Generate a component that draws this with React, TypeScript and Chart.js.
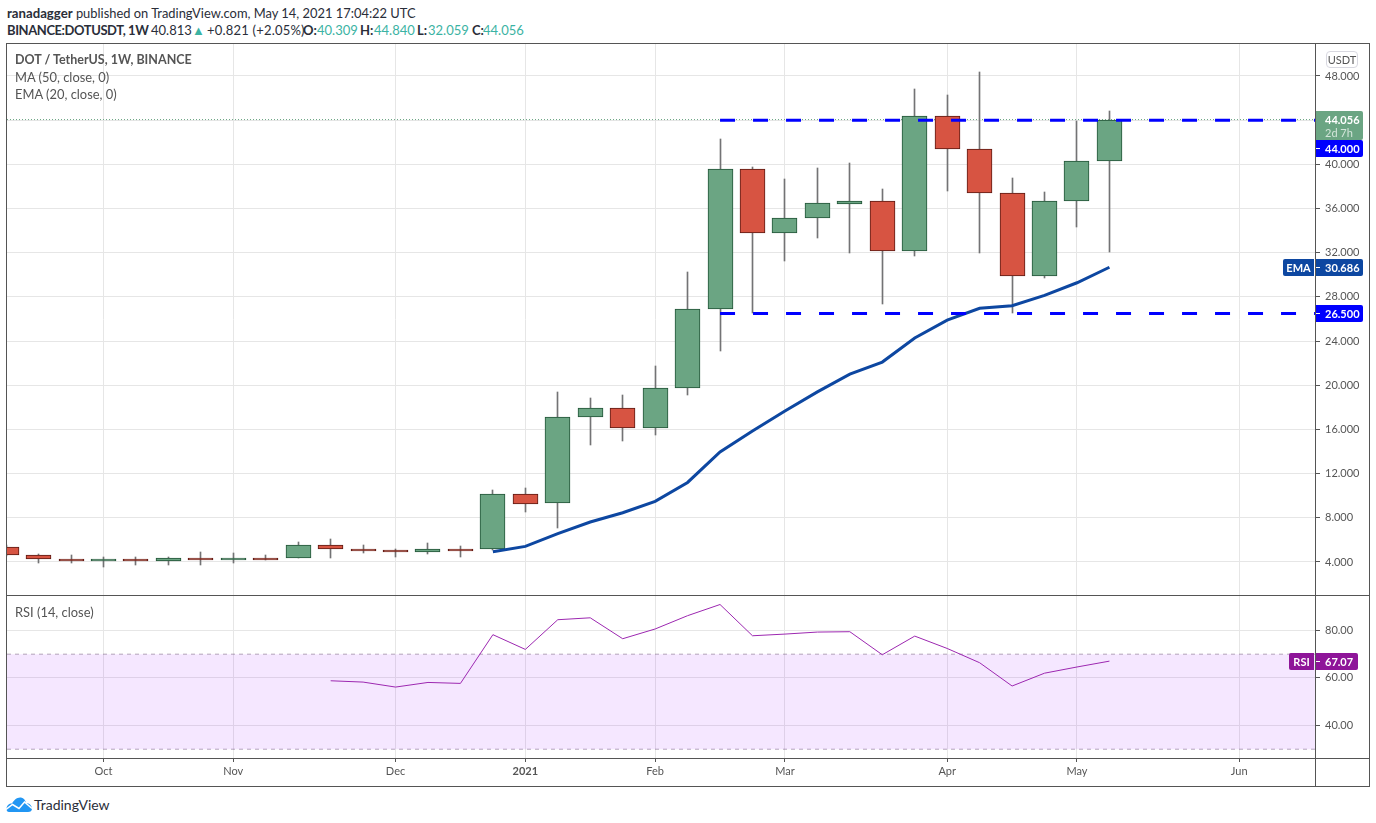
import React, { useEffect, useRef } from "react";
import { Chart, registerables } from "chart.js";

Chart.register(...registerables);

const FONT = "Lato, 'Open Sans', sans-serif";

// Weekly candles: index 0 = week of 2020-09-07, index 34 = week of 2021-05-10
const weeks = Array.from({ length: 35 }, (_, i) => i);
const opens = [5.36, 4.63, 4.3, 4.12, 4.27, 4.06, 4.36, 4.15, 4.39, 4.33, 5.54, 5.21, 5.09, 4.88, 5.21, 5.15, 10.13, 9.31, 17.1, 17.9, 16.1, 19.72, 26.88, 39.55, 33.76, 35.1, 36.44, 36.65, 32.2, 44.35, 41.36, 37.38, 29.87, 36.65, 40.309];
const highs = [5.5, 4.76, 4.66, 4.48, 4.48, 4.48, 4.94, 4.85, 4.66, 5.84, 6.11, 5.57, 5.21, 5.75, 5.48, 10.52, 10.7, 19.39, 18.85, 19.12, 21.74, 30.25, 42.3, 39.73, 38.67, 39.67, 40.12, 37.77, 46.82, 46.28, 48.36, 38.76, 37.5, 43.93, 44.84];
const lows = [4.5, 3.88, 3.88, 3.58, 3.76, 3.76, 3.76, 3.88, 4.21, 4.33, 4.39, 4.85, 4.48, 4.76, 4.48, 5.1, 8.55, 7.1, 14.62, 14.98, 15.52, 19.15, 23.1, 26.5, 31.28, 33.36, 32.0, 27.38, 31.73, 37.62, 32.0, 26.57, 29.71, 34.36, 32.059];
const closes = [4.6, 4.24, 4.12, 4.3, 4.06, 4.36, 4.15, 4.36, 4.33, 5.54, 5.15, 5.03, 4.88, 5.18, 5.15, 10.13, 9.22, 17.1, 17.9, 16.1, 19.72, 26.88, 39.55, 33.76, 35.1, 36.47, 36.65, 32.2, 44.35, 41.36, 37.38, 29.87, 36.65, 40.27, 44.056];

const emaWeeks = [15, 16, 17, 18, 19, 20, 21, 22, 23, 24, 25, 26, 27, 28, 29, 30, 31, 32, 33, 34];
const emaValues = [4.93, 5.41, 6.56, 7.62, 8.46, 9.49, 11.2, 13.96, 15.86, 17.67, 19.4, 21.0, 22.1, 24.28, 25.9, 26.97, 27.2, 28.14, 29.28, 30.686];

const rsiWeeks = [10, 11, 12, 13, 14, 15, 16, 17, 18, 19, 20, 21, 22, 23, 24, 25, 26, 27, 28, 29, 30, 31, 32, 33, 34];
const rsiValues = [58.8, 58.25, 56.15, 58.1, 57.7, 78.2, 72.0, 84.5, 85.3, 76.5, 80.6, 86.2, 90.9, 77.75, 78.45, 79.3, 79.45, 69.75, 77.6, 72.4, 66.4, 56.6, 62.0, 64.6, 67.07];

const priceTicks = [4, 8, 12, 16, 20, 24, 28, 32, 36, 40, 44, 48];
const hiddenPriceTicks = [44];
const rsiTicks = [40, 60, 80];
const monthTicks = [3, 7, 12, 16, 20, 24, 29, 33, 38];
const monthLabels = ["Oct", "Nov", "Dec", "2021", "Feb", "Mar", "Apr", "May", "Jun"];

const LEVEL_HIGH = 44;
const LEVEL_LOW = 26.5;
const LEVEL_START = 22;
const LAST_PRICE = 44.056;
const LAST_EMA = 30.686;
const LAST_RSI = 67.07;
const RSI_UPPER = 70;
const RSI_LOWER = 30;

const X_MIN = 0.026;
const X_MAX = 40.335;

const GREEN = "#6ba583";
const GREEN_DARK = "#225437";
const RED = "#d75442";
const RED_DARK = "#5b1a13";
const WICK = "#737375";
const GRID = "#e6e6e6";
const AXIS = "#555555";
const TEXT = "#555555";
const BLUE = "#0000ff";
const EMA_BLUE = "#0d47a1";
const RSI_PURPLE = "#8e1599";
const AXIS_FONT_SIZE = 11;

const crispBars = {
  id: "crispBars",
  afterDatasetsUpdate(chart: any) {
    chart.data.datasets.forEach((_: any, i: number) => {
      const meta = chart.getDatasetMeta(i);
      if (meta.type !== "bar") return;
      meta.data.forEach((el: any) => {
        el.x = Math.floor(el.x) + 0.5;
        const top = Math.round(Math.min(el.y, el.base));
        const bottom = Math.round(Math.max(el.y, el.base));
        el.y = top;
        el.base = Math.max(bottom, top + 2);
      });
    });
  },
};

type TagSpec = { value: number; bg: string; text: string; sub?: string; label?: string; labelW?: number; w?: number; offset?: number };

function tagPlugin(tags: TagSpec[], axisRight: number) {
  return {
    id: "axisTags",
    afterDraw(chart: any) {
      const { ctx, scales } = chart;
      const left = axisRight + 1;
      tags.forEach((t) => {
        const yc = Math.floor(scales.y.getPixelForValue(t.value)) + (t.offset ?? 0);
        const w = t.w ?? 47;
        const top = yc - 8;
        ctx.save();
        ctx.textBaseline = "middle";
        ctx.fillStyle = t.bg;
        ctx.beginPath();
        ctx.roundRect(left, top, w, t.sub ? 29 : 17, [0, 2, 2, 0]);
        ctx.fill();
        if (!t.sub) {
          ctx.fillStyle = "#ffffff";
          ctx.fillRect(left, yc, 4, 1);
        }
        ctx.font = `bold ${AXIS_FONT_SIZE}px ${FONT}`;
        ctx.fillStyle = "#ffffff";
        ctx.textAlign = "left";
        ctx.fillText(t.text, left + 9, yc + 1);
        if (t.sub) {
          ctx.font = `${AXIS_FONT_SIZE}px ${FONT}`;
          ctx.fillStyle = "#d3e5da";
          ctx.fillText(t.sub, left + 9, yc + 14);
        }
        if (t.label) {
          const lw = t.labelW ?? 31;
          ctx.fillStyle = t.bg;
          ctx.beginPath();
          ctx.roundRect(left - 2 - lw, top, lw, 17, [2, 0, 0, 2]);
          ctx.fill();
          ctx.fillStyle = "#ffffff";
          ctx.textAlign = "center";
          ctx.fillText(t.label, left - 2 - lw / 2, yc + 1);
        }
        ctx.restore();
      });
    },
  };
}

function sharedX(showLabels: boolean) {
  return {
    type: "linear",
    min: X_MIN,
    max: X_MAX,
    offset: false,
    afterBuildTicks: (scale: any) => {
      scale.ticks = monthTicks.map((value) => ({ value }));
    },
    grid: {
      color: GRID,
      lineWidth: 1,
      offset: false,
      drawTicks: showLabels,
      tickLength: 4,
      tickColor: AXIS,
    },
    border: { display: false },
    ticks: {
      display: showLabels,
      autoSkip: false,
      maxRotation: 0,
      minRotation: 0,
      padding: 3,
      color: TEXT,
      font: (c: any) => ({
        family: FONT,
        size: AXIS_FONT_SIZE,
        weight: c.tick && c.tick.value === 16 ? "bold" : "normal",
      }),
      callback: (v: any) => monthLabels[monthTicks.indexOf(Number(v))] ?? "",
    },
    afterFit: (scale: any) => {
      scale.height = showLabels ? 28 : 0;
      scale.paddingLeft = 0;
      scale.paddingRight = 0;
    },
  };
}

function yAxis(min: number, max: number, ticks: number[], digits: number) {
  return {
    type: "linear",
    position: "right",
    min,
    max,
    afterBuildTicks: (scale: any) => {
      scale.ticks = ticks.map((value) => ({ value }));
    },
    grid: { color: GRID, lineWidth: 1, tickLength: 5, tickColor: AXIS },
    border: { display: false },
    ticks: {
      padding: 5,
      color: TEXT,
      font: { family: FONT, size: AXIS_FONT_SIZE },
      callback: (v: any) => (hiddenPriceTicks.includes(Number(v)) && digits === 3 ? "" : Number(v).toFixed(digits)),
    },
    afterFit: (scale: any) => {
      scale.width = 54;
      scale.paddingTop = 0;
      scale.paddingBottom = 0;
    },
  };
}

const baseOptions = {
  animation: false,
  responsive: false,
  devicePixelRatio: 1,
  maintainAspectRatio: false,
  layout: { padding: 0 },
  plugins: { legend: { display: false }, tooltip: { enabled: false } },
  events: [],
};

const line = (data: { x: number; y: number }[], extra: object) => ({
  type: "line",
  data,
  pointRadius: 0,
  tension: 0,
  fill: false,
  ...extra,
});

function buildMain(canvas: HTMLCanvasElement) {
  const up = weeks.map((i) => closes[i] >= opens[i]);
  return new Chart(canvas, {
    type: "bar",
    data: {
      datasets: [
        line(
          [
            { x: X_MIN, y: LAST_PRICE },
            { x: X_MAX, y: LAST_PRICE },
          ],
          { borderColor: GREEN, borderWidth: 1, borderDash: [1, 2], order: 5 },
        ),
        {
          type: "bar",
          data: weeks.map((i) => ({ x: i, y: [lows[i], highs[i]] })),
          backgroundColor: WICK,
          borderWidth: 0,
          barThickness: 1,
          grouped: false,
          order: 4,
        },
        {
          type: "bar",
          data: weeks.map((i) => ({ x: i, y: [opens[i], closes[i]] })),
          backgroundColor: up.map((u) => (u ? GREEN : RED)),
          borderColor: up.map((u) => (u ? GREEN_DARK : RED_DARK)),
          borderWidth: 1,
          borderSkipped: false,
          barThickness: 25,
          grouped: false,
          order: 3,
        },
        line(
          emaWeeks.map((x, i) => ({ x, y: emaValues[i] })),
          { borderColor: EMA_BLUE, borderWidth: 3, order: 2 },
        ),
        line(
          [
            { x: LEVEL_START, y: LEVEL_HIGH },
            { x: X_MAX, y: LEVEL_HIGH },
          ],
          { borderColor: BLUE, borderWidth: 3, borderDash: [15, 18], order: 1 },
        ),
        line(
          [
            { x: LEVEL_START, y: LEVEL_LOW },
            { x: X_MAX, y: LEVEL_LOW },
          ],
          { borderColor: BLUE, borderWidth: 3, borderDash: [15, 18], order: 1 },
        ),
      ],
    },
    options: {
      ...baseOptions,
      scales: { x: sharedX(false), y: yAxis(1.01, 50.897, priceTicks, 3) },
    },
    plugins: [
      crispBars,
      tagPlugin(
        [
          { value: LAST_EMA, bg: EMA_BLUE, text: LAST_EMA.toFixed(3), label: "EMA" },
          { value: LEVEL_LOW, bg: BLUE, text: LEVEL_LOW.toFixed(3) },
          { value: LAST_PRICE, bg: GREEN, text: LAST_PRICE.toFixed(3), sub: "2d 7h" },
          { value: LEVEL_HIGH, offset: 28, bg: BLUE, text: LEVEL_HIGH.toFixed(3) },
        ],
        1308,
      ),
    ],
  } as any);
}

function buildRsi(canvas: HTMLCanvasElement) {
  const bandDash = { borderColor: "rgba(120,100,130,0.55)", borderWidth: 1, borderDash: [4, 4] };
  return new Chart(canvas, {
    type: "line",
    data: {
      datasets: [
        line(
          [
            { x: X_MIN, y: RSI_UPPER },
            { x: X_MAX, y: RSI_UPPER },
          ],
          { ...bandDash, fill: { target: 1 }, backgroundColor: "rgba(153,21,255,0.10)", order: 3 },
        ),
        line(
          [
            { x: X_MIN, y: RSI_LOWER },
            { x: X_MAX, y: RSI_LOWER },
          ],
          { ...bandDash, order: 3 },
        ),
        line(
          rsiWeeks.map((x, i) => ({ x, y: rsiValues[i] })),
          { borderColor: "#9c27b0", borderWidth: 1, order: 1 },
        ),
      ],
    },
    options: {
      ...baseOptions,
      scales: { x: sharedX(true), y: yAxis(26.3, 94.48, rsiTicks, 2) },
    },
    plugins: [
      tagPlugin([{ value: LAST_RSI, bg: RSI_PURPLE, text: LAST_RSI.toFixed(2), label: "RSI", labelW: 25, w: 42 }], 1308),
    ],
  } as any);
}

const abs = (left: number, top: number, width: number, height: number): React.CSSProperties => ({
  position: "absolute",
  left,
  top,
  width,
  height,
});

const teal = "#3bb3a3";

const headerBits: { left: number; text: string; color?: string; bold?: boolean; spacing?: number }[] = [
  { left: 7, text: "BINANCE:DOTUSDT, 1W", bold: true, spacing: -0.42 },
  { left: 151, text: "40.813" },
  { left: 192, text: "▲", color: teal },
  { left: 207, text: "+0.821 (+2.05%)", spacing: 0.2 },
  { left: 303, text: "O:", bold: true },
  { left: 317, text: "40.309", color: teal },
  { left: 360, text: "H:", bold: true },
  { left: 374, text: "44.840", color: teal },
  { left: 417, text: "L:", bold: true },
  { left: 428, text: "32.059", color: teal },
  { left: 472, text: "C:", bold: true },
  { left: 483, text: "44.056", color: teal },
];

export default function App() {
  const mainRef = useRef<HTMLCanvasElement>(null);
  const rsiRef = useRef<HTMLCanvasElement>(null);

  useEffect(() => {
    document.body.style.margin = "0";
    const a = buildMain(mainRef.current!);
    const b = buildRsi(rsiRef.current!);
    return () => {
      a.destroy();
      b.destroy();
    };
  }, []);

  const legend = (top: number, weight = 400, size = 12.9): React.CSSProperties => ({
    position: "absolute",
    left: 15,
    top,
    whiteSpace: "nowrap",
    fontFamily: FONT,
    fontSize: size,
    lineHeight: "16px",
    fontWeight: weight,
    color: "#555555",
  });

  return (
    <div style={{ ...abs(0, 0, 1376, 823), background: "#fff", overflow: "hidden" }}>
      <div
        style={{
          position: "absolute",
          left: 7,
          top: 5,
          whiteSpace: "nowrap",
          fontFamily: FONT,
          fontSize: 12.9,
          lineHeight: "17px",
          color: "#2a2e39",
        }}
      >
        <span style={{ fontWeight: 700, fontSize: 13.2 }}>ranadagger</span> published on TradingView.com, May 14, 2021 17:04:22 UTC
      </div>
      {headerBits.map((b) => (
        <span
          key={b.left}
          style={{
            position: "absolute",
            left: b.left,
            top: 22,
            whiteSpace: "nowrap",
            fontFamily: FONT,
            fontSize: 13,
            lineHeight: "17px",
            fontWeight: b.bold ? 700 : 400,
            letterSpacing: b.spacing ?? 0,
            color: b.color ?? "#2a2e39",
          }}
        >
          {b.text}
        </span>
      ))}

      <canvas ref={mainRef} width={1362} height={551} style={{ ...abs(7, 44, 1362, 551), display: "block" }} />
      <canvas ref={rsiRef} width={1362} height={190} style={{ ...abs(7, 596, 1362, 190), display: "block" }} />

      <div style={legend(52, 700, 12.5)}>DOT / TetherUS, 1W, BINANCE</div>
      <div style={legend(69)}>MA (50, close, 0)</div>
      <div style={legend(86)}>EMA (20, close, 0)</div>
      <div style={legend(604)}>RSI (14, close)</div>

      <div
        style={{
          ...abs(1326, 51, 32, 17),
          boxSizing: "border-box",
          border: "1px solid #d8d8e0",
          borderRadius: 4,
          background: "#fff",
          fontFamily: FONT,
          fontSize: 11,
          lineHeight: "15px",
          textAlign: "center",
          color: TEXT,
        }}
      >
        USDT
      </div>

      <div style={{ ...abs(6, 43, 1364, 744), boxSizing: "border-box", border: `1px solid ${AXIS}` }} />
      <div style={{ ...abs(6, 595, 1364, 1), background: AXIS }} />
      <div style={{ ...abs(6, 758, 1364, 1), background: AXIS }} />
      <div style={{ ...abs(1315, 43, 1, 744), background: AXIS }} />

      <svg style={abs(6, 797, 26, 15)} viewBox="0 0 26 15">
        <path
          d="M0.5 12 C0.5 8.5 3 6.5 6 6.5 C8 3 11 0 15 0.5 C18 1 19.5 3.5 20 6 C23.5 6 26 9 26 11.5 C26 14 24.5 15 22 15 H3 C1.5 15 0.5 14 0.5 12Z"
          fill="#2196f3"
        />
        <polyline points="0,12.5 6.5,7.5 13,11.5 18.5,5 26,11.5" fill="none" stroke="#fff" strokeWidth="1.5" />
      </svg>
      <div
        style={{
          position: "absolute",
          left: 34,
          top: 796,
          fontFamily: FONT,
          fontSize: 14,
          lineHeight: "17px",
          color: "#2a2e39",
          whiteSpace: "nowrap",
        }}
      >
        TradingView
      </div>
    </div>
  );
}
